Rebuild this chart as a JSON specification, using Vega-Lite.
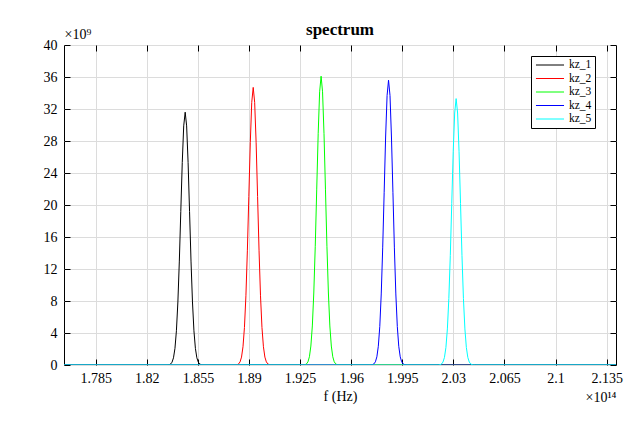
{
 "$schema": "https://vega.github.io/schema/vega-lite/v6.json",
 "width": 552,
 "height": 320,
 "autosize": {"type": "none"},
 "padding": {"left": 64, "top": 45, "right": 24, "bottom": 57},
 "background": "white",
 "title": {"text": "spectrum", "font": "Liberation Serif", "fontSize": 17, "fontWeight": "bold", "color": "black", "offset": -12, "frame": "group"},
 "config": {
  "view": {"stroke": "black", "strokeWidth": 1},
  "axis": {"labelFont": "Liberation Serif", "titleFont": "Liberation Serif", "labelColor": "black", "titleColor": "black", "labelFontSize": 14, "titleFontSize": 14, "titleFontWeight": "normal", "gridColor": "#dcdcdc", "gridOpacity": 1, "domain": false, "tickColor": "black"},
  "legend": {"labelFont": "Liberation Serif"}
 },
 "data": {"values": [
  {"s":"kz_1","f":1.7633,"p":0},{"s":"kz_1","f":1.8333,"p":0},{"s":"kz_1","f":1.8343,"p":0.01},{"s":"kz_1","f":1.8353,"p":0.04},{"s":"kz_1","f":1.8363,"p":0.12},{"s":"kz_1","f":1.8373,"p":0.35},{"s":"kz_1","f":1.8383,"p":0.9},{"s":"kz_1","f":1.8393,"p":2.08},{"s":"kz_1","f":1.8403,"p":4.28},{"s":"kz_1","f":1.8413,"p":7.88},{"s":"kz_1","f":1.8423,"p":12.99},{"s":"kz_1","f":1.8433,"p":19.17},{"s":"kz_1","f":1.8443,"p":25.3},{"s":"kz_1","f":1.8453,"p":29.89},{"s":"kz_1","f":1.8463,"p":31.6},{"s":"kz_1","f":1.8473,"p":29.89},{"s":"kz_1","f":1.8483,"p":25.3},{"s":"kz_1","f":1.8493,"p":19.17},{"s":"kz_1","f":1.8503,"p":12.99},{"s":"kz_1","f":1.8513,"p":7.88},{"s":"kz_1","f":1.8523,"p":4.28},{"s":"kz_1","f":1.8533,"p":2.08},{"s":"kz_1","f":1.8543,"p":0.9},{"s":"kz_1","f":1.8553,"p":0.35},{"s":"kz_1","f":1.8563,"p":0.12},{"s":"kz_1","f":1.8573,"p":0.04},{"s":"kz_1","f":1.8583,"p":0.01},{"s":"kz_1","f":1.8593,"p":0},{"s":"kz_1","f":2.1414,"p":0},
  {"s":"kz_2","f":1.7633,"p":0},{"s":"kz_2","f":1.8799,"p":0},{"s":"kz_2","f":1.8809,"p":0.01},{"s":"kz_2","f":1.8819,"p":0.04},{"s":"kz_2","f":1.8829,"p":0.14},{"s":"kz_2","f":1.8839,"p":0.39},{"s":"kz_2","f":1.8849,"p":0.99},{"s":"kz_2","f":1.8859,"p":2.28},{"s":"kz_2","f":1.8869,"p":4.69},{"s":"kz_2","f":1.8879,"p":8.65},{"s":"kz_2","f":1.8889,"p":14.27},{"s":"kz_2","f":1.8899,"p":21.05},{"s":"kz_2","f":1.8909,"p":27.78},{"s":"kz_2","f":1.8919,"p":32.83},{"s":"kz_2","f":1.8929,"p":34.7},{"s":"kz_2","f":1.8939,"p":32.83},{"s":"kz_2","f":1.8949,"p":27.78},{"s":"kz_2","f":1.8959,"p":21.05},{"s":"kz_2","f":1.8969,"p":14.27},{"s":"kz_2","f":1.8979,"p":8.65},{"s":"kz_2","f":1.8989,"p":4.69},{"s":"kz_2","f":1.8999,"p":2.28},{"s":"kz_2","f":1.9009,"p":0.99},{"s":"kz_2","f":1.9019,"p":0.39},{"s":"kz_2","f":1.9029,"p":0.14},{"s":"kz_2","f":1.9039,"p":0.04},{"s":"kz_2","f":1.9049,"p":0.01},{"s":"kz_2","f":1.9059,"p":0},{"s":"kz_2","f":2.1414,"p":0},
  {"s":"kz_3","f":1.7633,"p":0},{"s":"kz_3","f":1.9264,"p":0},{"s":"kz_3","f":1.9274,"p":0.01},{"s":"kz_3","f":1.9284,"p":0.04},{"s":"kz_3","f":1.9294,"p":0.14},{"s":"kz_3","f":1.9304,"p":0.4},{"s":"kz_3","f":1.9314,"p":1.03},{"s":"kz_3","f":1.9324,"p":2.37},{"s":"kz_3","f":1.9334,"p":4.88},{"s":"kz_3","f":1.9344,"p":9.0},{"s":"kz_3","f":1.9354,"p":14.84},{"s":"kz_3","f":1.9364,"p":21.89},{"s":"kz_3","f":1.9374,"p":28.91},{"s":"kz_3","f":1.9384,"p":34.15},{"s":"kz_3","f":1.9394,"p":36.1},{"s":"kz_3","f":1.9404,"p":34.15},{"s":"kz_3","f":1.9414,"p":28.91},{"s":"kz_3","f":1.9424,"p":21.89},{"s":"kz_3","f":1.9434,"p":14.84},{"s":"kz_3","f":1.9444,"p":9.0},{"s":"kz_3","f":1.9454,"p":4.88},{"s":"kz_3","f":1.9464,"p":2.37},{"s":"kz_3","f":1.9474,"p":1.03},{"s":"kz_3","f":1.9484,"p":0.4},{"s":"kz_3","f":1.9494,"p":0.14},{"s":"kz_3","f":1.9504,"p":0.04},{"s":"kz_3","f":1.9514,"p":0.01},{"s":"kz_3","f":1.9524,"p":0},{"s":"kz_3","f":2.1414,"p":0},
  {"s":"kz_4","f":1.7633,"p":0},{"s":"kz_4","f":1.9726,"p":0},{"s":"kz_4","f":1.9736,"p":0.01},{"s":"kz_4","f":1.9746,"p":0.04},{"s":"kz_4","f":1.9756,"p":0.14},{"s":"kz_4","f":1.9766,"p":0.4},{"s":"kz_4","f":1.9776,"p":1.02},{"s":"kz_4","f":1.9786,"p":2.34},{"s":"kz_4","f":1.9796,"p":4.82},{"s":"kz_4","f":1.9806,"p":8.88},{"s":"kz_4","f":1.9816,"p":14.64},{"s":"kz_4","f":1.9826,"p":21.59},{"s":"kz_4","f":1.9836,"p":28.5},{"s":"kz_4","f":1.9846,"p":33.68},{"s":"kz_4","f":1.9856,"p":35.6},{"s":"kz_4","f":1.9866,"p":33.68},{"s":"kz_4","f":1.9876,"p":28.5},{"s":"kz_4","f":1.9886,"p":21.59},{"s":"kz_4","f":1.9896,"p":14.64},{"s":"kz_4","f":1.9906,"p":8.88},{"s":"kz_4","f":1.9916,"p":4.82},{"s":"kz_4","f":1.9926,"p":2.34},{"s":"kz_4","f":1.9936,"p":1.02},{"s":"kz_4","f":1.9946,"p":0.4},{"s":"kz_4","f":1.9956,"p":0.14},{"s":"kz_4","f":1.9966,"p":0.04},{"s":"kz_4","f":1.9976,"p":0.01},{"s":"kz_4","f":1.9986,"p":0},{"s":"kz_4","f":2.1414,"p":0},
  {"s":"kz_5","f":1.7633,"p":0},{"s":"kz_5","f":2.0189,"p":0},{"s":"kz_5","f":2.0199,"p":0.01},{"s":"kz_5","f":2.0209,"p":0.04},{"s":"kz_5","f":2.0219,"p":0.13},{"s":"kz_5","f":2.0229,"p":0.37},{"s":"kz_5","f":2.0239,"p":0.95},{"s":"kz_5","f":2.0249,"p":2.19},{"s":"kz_5","f":2.0259,"p":4.51},{"s":"kz_5","f":2.0269,"p":8.31},{"s":"kz_5","f":2.0279,"p":13.69},{"s":"kz_5","f":2.0289,"p":20.2},{"s":"kz_5","f":2.0299,"p":26.66},{"s":"kz_5","f":2.0309,"p":31.5},{"s":"kz_5","f":2.0319,"p":33.3},{"s":"kz_5","f":2.0329,"p":31.5},{"s":"kz_5","f":2.0339,"p":26.66},{"s":"kz_5","f":2.0349,"p":20.2},{"s":"kz_5","f":2.0359,"p":13.69},{"s":"kz_5","f":2.0369,"p":8.31},{"s":"kz_5","f":2.0379,"p":4.51},{"s":"kz_5","f":2.0389,"p":2.19},{"s":"kz_5","f":2.0399,"p":0.95},{"s":"kz_5","f":2.0409,"p":0.37},{"s":"kz_5","f":2.0419,"p":0.13},{"s":"kz_5","f":2.0429,"p":0.04},{"s":"kz_5","f":2.0439,"p":0.01},{"s":"kz_5","f":2.0449,"p":0},{"s":"kz_5","f":2.1414,"p":0}
 ]},
 "layer": [
  {
   "mark": {"type": "line", "strokeWidth": 1, "clip": true},
   "encoding": {
    "x": {"field": "f", "type": "quantitative", "scale": {"domain": [1.7633, 2.1414], "nice": false, "zero": false},
     "axis": {"orient": "bottom", "values": [1.785, 1.82, 1.855, 1.89, 1.925, 1.96, 1.995, 2.03, 2.065, 2.1, 2.135], "format": ".3~f", "grid": true, "tickSize": -6, "labelPadding": 12, "labelFont": "Liberation Serif", "labelFontSize": 14, "title": "f (Hz)", "titleX": 276, "titleY": 35, "titleBaseline": "alphabetic", "titleAnchor": null}},
    "y": {"field": "p", "type": "quantitative", "scale": {"domain": [0, 40], "nice": false, "zero": true},
     "axis": {"orient": "left", "values": [0, 4, 8, 12, 16, 20, 24, 28, 32, 36, 40], "grid": true, "tickSize": -6, "labelPadding": 13, "labelFont": "Liberation Serif", "labelFontSize": 14, "title": "×10⁹", "titleAngle": 0, "titleX": 0, "titleY": -7, "titleAlign": "left", "titleBaseline": "alphabetic", "titleFontSize": 14}},
    "color": {"field": "s", "type": "nominal",
     "scale": {"domain": ["kz_1", "kz_2", "kz_3", "kz_4", "kz_5"], "range": ["#000000", "#ff0000", "#00ff00", "#0000ff", "#00ffff"]},
     "legend": {"orient": "none", "legendX": 467, "legendY": 11, "title": null, "strokeColor": "black", "fillColor": "white", "padding": 3, "symbolType": "M-2.55,0H2.55", "symbolSize": 121, "symbolStrokeWidth": 1, "symbolFillColor": "transparent", "symbolOffset": 10, "labelFont": "Liberation Serif", "labelFontSize": 11.5, "labelColor": "black", "rowPadding": 1.5, "labelOffset": 13}}
   }
  },
  {
   "mark": {"type": "line", "opacity": 0},
   "encoding": {
    "x": {"field": "f", "type": "quantitative", "axis": {"orient": "top", "values": [1.785, 1.82, 1.855, 1.89, 1.925, 1.96, 1.995, 2.03, 2.065, 2.1, 2.135], "labels": false, "grid": false, "tickSize": -6, "title": null}},
    "y": {"field": "p", "type": "quantitative", "axis": {"orient": "right", "values": [0, 4, 8, 12, 16, 20, 24, 28, 32, 36, 40], "labels": false, "grid": false, "tickSize": -6, "title": null}}
   }
  },
  {
   "mark": {"type": "line", "opacity": 0},
   "encoding": {
    "x": {"field": "f", "type": "quantitative", "axis": {"orient": "bottom", "labels": false, "ticks": false, "grid": false, "title": "×10¹⁴", "titleX": 552, "titleY": 36, "titleAlign": "right", "titleBaseline": "alphabetic", "titleFontSize": 14, "titleAnchor": null}},
    "y": {"field": "p", "type": "quantitative", "axis": null}
   }
  }
 ],
 "resolve": {"axis": {"x": "independent", "y": "independent"}}
}
